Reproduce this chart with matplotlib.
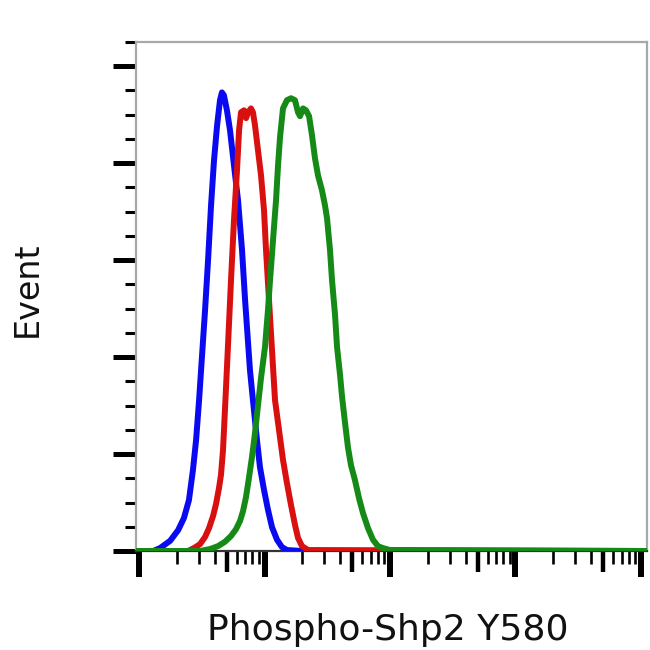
import matplotlib
matplotlib.use("Agg")
import matplotlib.pyplot as plt
from matplotlib.ticker import FixedLocator, NullFormatter, MultipleLocator

# ---- data (fluorescence intensity vs event count) ----
blue_x = [9.5, 13.0, 14.7, 17.7, 20.5, 22.8, 25.0, 26.9, 28.5, 30.1, 31.8, 33.6, 35.5,
          37.5, 39.6, 41.9, 44.2, 45.8, 47.5, 50.2, 53.1, 57.1, 61.5, 66.2, 70.0, 76.6,
          80.9, 87.1, 92.0, 99.1, 106.6, 114.8, 125.9, 137.8, 151.0, 200, 112000]
blue_y = [0, 0, 0.6, 2.1, 4.3, 6.8, 10.5, 16.7, 22.9, 31.1, 40.4, 49.7, 60.0,
          71.3, 80.6, 87.8, 93.0, 94.6, 94.0, 90.9, 86.8, 79.6, 72.4, 62.1, 51.8, 37.3,
          31.1, 22.9, 17.3, 12.6, 8.5, 4.9, 2.3, 0.8, 0.2, 0, 0]

red_x = [9.5, 24.6, 27.4, 30.6, 33.6, 36.1, 38.9, 41.1, 43.4, 45.0, 46.7, 48.4, 51.2,
         54.1, 57.1, 60.4, 62.7, 65.0, 68.7, 71.3, 73.9, 78.0, 80.9, 84.0, 88.7, 93.8,
         99.1, 102.8, 108.6, 114.8, 121.3, 130.6, 140.4, 151.0, 162.6, 174.9, 184.9,
         199.0, 222.3, 112000]
red_y = [0, 0, 0.6, 1.4, 2.9, 4.7, 7.2, 9.7, 13.0, 15.7, 20.8, 29.1, 42.5,
         55.9, 68.2, 78.6, 86.8, 90.5, 90.9, 89.3, 90.5, 91.3, 90.5, 87.8, 82.7, 77.5,
         70.3, 62.1, 51.8, 41.4, 31.1, 24.9, 18.8, 14.0, 9.5, 5.4, 2.7,
         1.0, 0.2, 0]

green_x = [9.5, 30.6, 36.8, 42.6, 48.4, 54.1, 59.3, 63.8, 67.4, 71.2, 75.2, 79.5, 84.0,
           88.8, 93.8, 100.9, 106.6, 110.7, 116.9, 123.6, 128.2, 133.0, 140.4, 151.0,
           162.6, 174.9, 184.9, 191.9, 202.9, 214.3, 226.5, 238.9, 252.5, 266.8, 287.1,
           303.4, 314.8, 332.6, 345.1, 364.8, 378.4, 400.0, 415.0, 437.5, 462.4, 488.7,
           526.0, 566.2, 609.5, 668.3, 732.8, 802.1, 879.5, 1000, 112000]
green_y = [0, 0, 0.4, 1.0, 1.9, 3.1, 4.5, 6.2, 8.2, 11.1, 15.1, 19.4, 24.3,
           30.1, 35.7, 42.1, 49.7, 55.9, 64.1, 72.4, 79.6, 85.4, 91.3, 93.0,
           93.4, 93.0, 90.5, 89.7, 91.3, 90.9, 89.7, 85.8, 81.0, 77.5, 74.4,
           71.3, 68.7, 62.1, 55.9, 48.7, 42.1, 36.3, 31.8, 26.6, 21.4, 17.7,
           14.6, 10.9, 7.8, 4.7, 2.3, 1.0, 0.6, 0.2, 0]

x_major = [1e1, 1e2, 1e3, 1e4, 1e5]
x_mid = [5e1, 5e2, 5e3, 5e4]
x_minor = [m * d for d in (1e1, 1e2, 1e3, 1e4) for m in (2, 3, 4, 6, 7, 8, 9)]
x_label = "Phospho-Shp2 Y580"
y_label = "Event"

fig = plt.figure(figsize=(6.5, 6.5), dpi=100)
ax = fig.add_axes([136 / 650, 1 - 551 / 650, 511 / 650, 509 / 650])

ax.plot(blue_x, blue_y, color="#0a0af0", lw=4.3, solid_joinstyle="round", zorder=3)
ax.plot(red_x, red_y, color="#d81010", lw=4.3, solid_joinstyle="round", zorder=4)
ax.plot(green_x, green_y, color="#168a16", lw=4.3, solid_joinstyle="round", zorder=5)

ax.set_xscale("log")
ax.set_xlim(10 ** 0.976, 10 ** 5.048)
ax.set_ylim(0, 105)

ax.xaxis.set_major_locator(FixedLocator(x_major))
ax.xaxis.set_minor_locator(FixedLocator(x_minor))
ax.xaxis.set_major_formatter(NullFormatter())
ax.xaxis.set_minor_formatter(NullFormatter())
ax.tick_params(axis="x", which="major", direction="out", length=19, width=4.3, color="black")
ax.tick_params(axis="x", which="minor", direction="out", length=9.5, width=1.9, color="black")

sec = ax.secondary_xaxis("bottom")
sec.set_xticks(x_mid)
sec.xaxis.set_minor_locator(FixedLocator([]))
sec.xaxis.set_major_formatter(NullFormatter())
sec.tick_params(axis="x", which="major", direction="out", length=15, width=3.2, color="black")
for s in sec.spines.values():
    s.set_visible(False)

ax.yaxis.set_major_locator(MultipleLocator(20))
ax.yaxis.set_minor_locator(MultipleLocator(5))
ax.yaxis.set_major_formatter(NullFormatter())
ax.tick_params(axis="y", which="major", direction="out", length=16.5, width=3.6, color="black")
ax.tick_params(axis="y", which="minor", direction="out", length=8, width=2.2, color="black")

for side in ("top", "right", "left"):
    ax.spines[side].set_color("#a8a8a8")
    ax.spines[side].set_linewidth(1.6)
ax.spines["bottom"].set_color("#333333")
ax.spines["bottom"].set_linewidth(1.6)

fig.text(388 / 650, 10 / 650, x_label, ha="center", va="baseline",
         fontsize=26, color="#111111", family="DejaVu Sans")
fig.text(27 / 650, 1 - 289 / 650, y_label, ha="center", va="center", rotation=90,
         fontsize=24, color="#111111", family="DejaVu Sans")

fig.savefig("out.png", dpi=100)
